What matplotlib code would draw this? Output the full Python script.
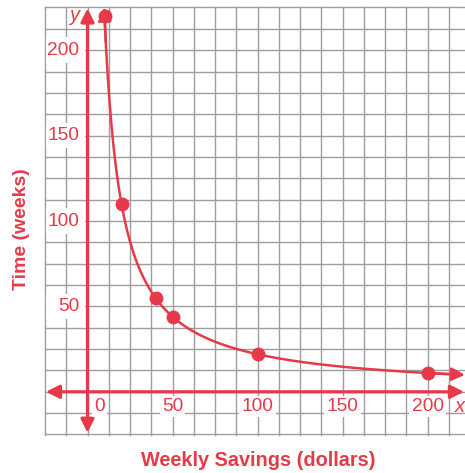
import numpy as np
import matplotlib
matplotlib.use("Agg")
import matplotlib.pyplot as plt
from matplotlib.patches import Rectangle

# data
savings = [10, 20, 40, 50, 100, 200]
weeks = [220, 110, 55, 44, 22, 11]
x_ticks = [0, 50, 100, 150, 200]
y_ticks = [50, 100, 150, 200]

red = '#E63A4A'
grid_gray = '#9E9E9E'
font = 'Liberation Sans'

W, H = 465, 473
fig = plt.figure(figsize=(W / 100, H / 100), dpi=100)
ax = fig.add_axes([45 / W, (H - 434.5) / H, (W - 45) / W, 427 / H])
ax.set_xlim(-25, -25 + 420 / 1.7)
ax.set_ylim(-25, 225)
ax.axis('off')

# grid, one cell = 12.5 units
step = 12.5
for gx in np.arange(-25, 225, step):
    ax.axvline(gx, color=grid_gray, lw=1.0, zorder=1, clip_on=False)
for gy in np.arange(-25, 225.1, step):
    ax.axhline(gy, color=grid_gray, lw=1.0, zorder=1, clip_on=False)

# axes with arrows
arrow_kw = dict(arrowstyle='<|-|>', color=red, lw=2.3, mutation_scale=20,
                shrinkA=0, shrinkB=0)
ax.annotate('', xy=(0, 224.5), xytext=(0, -24), arrowprops=arrow_kw, zorder=3)
ax.annotate('', xy=(221.5, 0), xytext=(-24.5, 0), arrowprops=arrow_kw, zorder=3)

# curve through the points (time = total / weekly savings)
total = np.mean(np.array(savings) * np.array(weeks))
xs = np.linspace(total / 224, 220, 400)
ax.plot(xs, total / xs, color=red, lw=1.8, zorder=4, solid_capstyle='butt')
head_kw = dict(arrowstyle='-|>', color=red, lw=1.8, mutation_scale=20,
               shrinkA=0, shrinkB=0)
ax.annotate('', xy=(total / 225, 225), xytext=(total / 205, 205),
            arrowprops=head_kw, zorder=4)
ax.annotate('', xy=(222, total / 222), xytext=(205, total / 205),
            arrowprops=head_kw, zorder=4)
ax.plot(savings, weeks, 'o', color=red, ms=9, zorder=5)

# tick labels, each on a white patch that hides the grid
box = dict(facecolor='white', edgecolor='none', pad=1.5)
for t in x_ticks:
    xt = 7 if t == 0 else t
    ax.text(xt, -8.8, str(t), color=red, fontsize=13.8, family=font,
            ha='center', va='center', bbox=box, zorder=6)
for t in y_ticks:
    ax.add_patch(Rectangle((-24.6, t - 7.5), 23.3, 15, facecolor='white',
                           edgecolor='none', zorder=2))
    ax.text(-5.0, t, str(t), color=red, fontsize=13.8, family=font,
            ha='right', va='center', zorder=6)

ax.text(-7.8, 220.5, 'y', color=red, fontsize=14.5, family=font,
        style='italic', ha='center', va='center', zorder=6)
ax.text(219.2, -8.8, 'x', color=red, fontsize=14.5, family=font,
        style='italic', ha='center', va='center', zorder=6)

fig.text(258 / W, 1 - 460 / H, 'Weekly Savings (dollars)', color=red,
         fontsize=14.3, family=font, weight='bold', ha='center', va='center')
fig.text(22 / W, 1 - 229 / H, 'Time (weeks)', color=red, fontsize=14,
         family=font, weight='bold', rotation=90, ha='center', va='center')

fig.savefig('out.png', dpi=100)
